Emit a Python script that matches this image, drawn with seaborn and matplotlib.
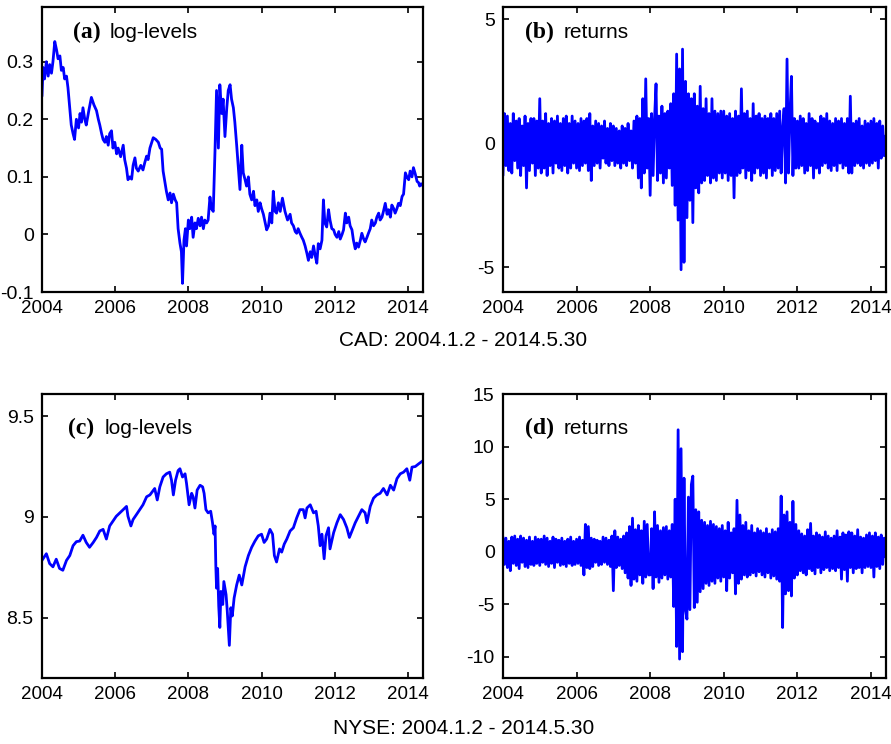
import numpy as np
import pandas as pd
import matplotlib
matplotlib.use("Agg")
import matplotlib.pyplot as plt
import seaborn as sns

# ---------------- data ----------------
# CAD log-levels (decimal year, value)
cad_level_years = [
    2004.00, 2004.03, 2004.07, 2004.12, 2004.17, 2004.21, 2004.26, 2004.30, 2004.35,
    2004.40, 2004.44, 2004.49, 2004.53, 2004.58, 2004.62, 2004.67, 2004.71, 2004.76,
    2004.80, 2004.85, 2004.89, 2004.94, 2005.00, 2005.04, 2005.08, 2005.12, 2005.17,
    2005.21, 2005.28, 2005.35, 2005.42, 2005.49, 2005.54, 2005.58, 2005.63, 2005.67,
    2005.72, 2005.76, 2005.81, 2005.85, 2005.90, 2005.94, 2005.99, 2006.04, 2006.08,
    2006.15, 2006.22, 2006.26, 2006.31, 2006.35, 2006.40, 2006.45, 2006.49, 2006.54,
    2006.58, 2006.63, 2006.70, 2006.76, 2006.81, 2006.86, 2006.90, 2006.95, 2007.00,
    2007.04, 2007.11, 2007.18, 2007.23, 2007.27, 2007.31, 2007.36, 2007.40, 2007.45,
    2007.50, 2007.54, 2007.59, 2007.64, 2007.68, 2007.72, 2007.77, 2007.81, 2007.84,
    2007.88, 2007.92, 2007.95, 2008.00, 2008.04, 2008.09, 2008.13, 2008.18, 2008.22,
    2008.27, 2008.32, 2008.36, 2008.41, 2008.45, 2008.50, 2008.54, 2008.59, 2008.63,
    2008.68, 2008.73, 2008.77, 2008.82, 2008.86, 2008.91, 2008.95, 2009.00, 2009.05,
    2009.09, 2009.14, 2009.18, 2009.23, 2009.27, 2009.32, 2009.36, 2009.41, 2009.46,
    2009.50, 2009.55, 2009.59, 2009.64, 2009.68, 2009.73, 2009.78, 2009.82, 2009.87,
    2009.91, 2009.96, 2010.00, 2010.05, 2010.10, 2010.14, 2010.19, 2010.23, 2010.28,
    2010.32, 2010.37, 2010.41, 2010.46, 2010.51, 2010.57, 2010.64, 2010.71, 2010.78,
    2010.82, 2010.87, 2010.92, 2010.96, 2011.00, 2011.05, 2011.10, 2011.14, 2011.19,
    2011.24, 2011.28, 2011.33, 2011.37, 2011.42, 2011.46, 2011.51, 2011.55, 2011.60,
    2011.65, 2011.69, 2011.73, 2011.78, 2011.83, 2011.87, 2011.92, 2011.97, 2012.01,
    2012.06, 2012.11, 2012.15, 2012.20, 2012.24, 2012.29, 2012.33, 2012.38, 2012.42,
    2012.47, 2012.51, 2012.56, 2012.60, 2012.65, 2012.70, 2012.74, 2012.79, 2012.83,
    2012.88, 2012.92, 2012.97, 2013.01, 2013.06, 2013.11, 2013.15, 2013.20, 2013.24,
    2013.29, 2013.33, 2013.38, 2013.43, 2013.47, 2013.52, 2013.56, 2013.61, 2013.65,
    2013.70, 2013.74, 2013.79, 2013.84, 2013.88, 2013.93, 2013.97, 2014.02, 2014.06,
    2014.11, 2014.15, 2014.20, 2014.25, 2014.29, 2014.32, 2014.36, 2014.41,
]
cad_level_values = [
    0.240, 0.290, 0.270, 0.300, 0.275, 0.295, 0.280, 0.300, 0.335,
    0.320, 0.305, 0.310, 0.285, 0.290, 0.270, 0.275, 0.255, 0.220,
    0.190, 0.175, 0.165, 0.200, 0.185, 0.210, 0.195, 0.220, 0.200,
    0.190, 0.215, 0.238, 0.225, 0.215, 0.200, 0.190, 0.175, 0.165,
    0.160, 0.170, 0.155, 0.175, 0.180, 0.150, 0.160, 0.140, 0.150,
    0.135, 0.155, 0.130, 0.115, 0.095, 0.100, 0.096, 0.120, 0.133,
    0.115, 0.110, 0.120, 0.112, 0.125, 0.136, 0.130, 0.150, 0.160,
    0.168, 0.165, 0.160, 0.150, 0.148, 0.110, 0.090, 0.075, 0.060,
    0.072, 0.055, 0.070, 0.060, 0.055, 0.010, -0.015, -0.030, -0.085,
    -0.010, 0.010, -0.020, 0.025, 0.010, 0.030, -0.005, 0.020, 0.010,
    0.028, 0.015, 0.030, 0.010, 0.025, 0.020, 0.025, 0.065, 0.045,
    0.040, 0.150, 0.250, 0.150, 0.260, 0.210, 0.235, 0.170, 0.220,
    0.250, 0.260, 0.235, 0.220, 0.195, 0.155, 0.120, 0.078, 0.155,
    0.107, 0.095, 0.084, 0.100, 0.070, 0.060, 0.075, 0.050, 0.060,
    0.040, 0.055, 0.045, 0.035, 0.020, 0.008, 0.015, 0.037, 0.020,
    0.075, 0.040, 0.037, 0.055, 0.040, 0.063, 0.040, 0.025, 0.035,
    0.020, 0.015, 0.005, 0.002, 0.010, 0.002, -0.005, -0.010, -0.020,
    -0.033, -0.045, -0.030, -0.040, -0.020, -0.035, -0.050, -0.016, -0.025,
    -0.010, 0.060, 0.020, 0.013, 0.043, 0.025, 0.010, 0.008, 0.000,
    -0.005, 0.005, -0.008, 0.000, 0.008, 0.037, 0.020, 0.030, 0.015,
    0.008, -0.010, -0.025, -0.015, -0.022, -0.010, 0.002, -0.008, -0.013,
    -0.005, 0.002, 0.010, 0.025, 0.015, 0.020, 0.030, 0.037, 0.025,
    0.030, 0.040, 0.054, 0.035, 0.043, 0.030, 0.051, 0.045, 0.037,
    0.045, 0.054, 0.050, 0.066, 0.070, 0.107, 0.100, 0.095, 0.110,
    0.100, 0.116, 0.105, 0.092, 0.090, 0.084, 0.088, 0.084,
]

# NYSE log-levels (decimal year, value)
nyse_level_years = [
    2004.00, 2004.12, 2004.21, 2004.30, 2004.39, 2004.48, 2004.57, 2004.67, 2004.76,
    2004.85, 2004.94, 2005.03, 2005.12, 2005.21, 2005.30, 2005.40, 2005.49, 2005.58,
    2005.67, 2005.76, 2005.85, 2005.94, 2006.03, 2006.13, 2006.22, 2006.31, 2006.35,
    2006.43, 2006.49, 2006.58, 2006.67, 2006.76, 2006.86, 2006.95, 2007.08, 2007.15,
    2007.22, 2007.31, 2007.40, 2007.49, 2007.54, 2007.59, 2007.65, 2007.72, 2007.77,
    2007.84, 2007.91, 2007.95, 2008.02, 2008.09, 2008.13, 2008.18, 2008.24, 2008.32,
    2008.39, 2008.43, 2008.48, 2008.54, 2008.61, 2008.66, 2008.70, 2008.73, 2008.75,
    2008.77, 2008.80, 2008.83, 2008.86, 2008.89, 2008.94, 2008.97, 2009.03, 2009.06,
    2009.12, 2009.16, 2009.20, 2009.25, 2009.32, 2009.39, 2009.46, 2009.55, 2009.64,
    2009.73, 2009.82, 2009.91, 2010.00, 2010.07, 2010.14, 2010.23, 2010.30, 2010.35,
    2010.41, 2010.49, 2010.55, 2010.62, 2010.69, 2010.78, 2010.87, 2010.96, 2011.05,
    2011.14, 2011.19, 2011.24, 2011.33, 2011.42, 2011.49, 2011.55, 2011.60, 2011.65,
    2011.71, 2011.76, 2011.83, 2011.87, 2011.97, 2012.06, 2012.15, 2012.24, 2012.33,
    2012.40, 2012.47, 2012.56, 2012.65, 2012.74, 2012.83, 2012.88, 2012.97, 2013.06,
    2013.15, 2013.24, 2013.33, 2013.43, 2013.52, 2013.61, 2013.70, 2013.79, 2013.88,
    2013.97, 2014.05, 2014.11, 2014.20, 2014.29, 2014.41,
]
nyse_level_values = [
    8.784, 8.817, 8.768, 8.752, 8.790, 8.744, 8.735, 8.784, 8.808,
    8.857, 8.877, 8.880, 8.909, 8.873, 8.849, 8.873, 8.898, 8.930,
    8.938, 8.890, 8.955, 8.979, 9.003, 9.020, 9.036, 9.052, 9.003,
    8.955, 8.987, 9.011, 9.036, 9.060, 9.100, 9.109, 9.141, 9.084,
    9.149, 9.198, 9.214, 9.222, 9.182, 9.109, 9.182, 9.230, 9.239,
    9.198, 9.214, 9.166, 9.060, 9.117, 9.100, 9.044, 9.133, 9.157,
    9.149, 9.117, 9.036, 9.020, 9.028, 8.971, 8.914, 8.955, 8.760,
    8.646, 8.744, 8.557, 8.451, 8.630, 8.565, 8.679, 8.614, 8.541,
    8.362, 8.549, 8.508, 8.597, 8.662, 8.711, 8.662, 8.752, 8.808,
    8.849, 8.880, 8.906, 8.914, 8.873, 8.890, 8.938, 8.914, 8.808,
    8.776, 8.841, 8.825, 8.865, 8.890, 8.930, 8.946, 8.995, 9.036,
    9.036, 8.995, 9.044, 9.060, 9.020, 9.028, 8.955, 8.857, 8.914,
    8.792, 8.906, 8.946, 8.841, 8.922, 8.971, 9.011, 8.987, 8.946,
    8.898, 8.930, 8.971, 9.003, 9.036, 9.020, 8.971, 9.052, 9.093,
    9.109, 9.117, 9.141, 9.109, 9.157, 9.133, 9.190, 9.214, 9.222,
    9.239, 9.182, 9.247, 9.250, 9.263, 9.279,
]

# Returns sampled every 0.04 years from 2004.00 to 2014.40 (one row per year)
returns_start, returns_step = 2004.0, 0.04

cad_returns = (
    [-1.3, 1.2, -0.9, 1.1, -1.1, 0.8, -1.2, 1.2, -0.7, 0.9, -1.0, 1.0, -1.3, 0.7, -0.9, 1.1, -1.8, 0.8, -1.1, 1.0, -0.8, 1.0, -1.3, 0.9, -1.0]
    + [1.8, -1.2, 0.9, -1.0, 1.2, -1.3, 0.8, -0.9, 1.0, -1.2, 0.9, -0.8, 1.1, -1.0, 0.8, -1.1, 1.0, -0.9, 1.1, -1.2, 0.8, -1.0, 1.1, -0.8, 0.9]
    + [-1.0, 0.8, -1.1, 1.0, -0.9, 0.9, -0.8, 1.0, -1.1, 1.2, -1.5, 0.7, -0.9, 0.9, -0.8, 0.8, -1.0, 0.7, -0.6, 0.9, -0.8, 0.6, -0.9, 0.8, -0.7]
    + [0.7, -0.9, 0.6, -0.8, 0.5, -1.0, 0.7, -0.8, 0.6, -0.9, 0.8, -0.7, 0.5, -1.0, 0.9, -0.8, 1.1, -1.4, 1.0, -1.8, 1.8, -1.2, 2.6, -1.0, 1.0]
    + [-2.1, 1.2, -1.3, 1.0, 2.4, -1.5, 1.1, -1.2, 1.5, -1.6, 1.2, -1.4, 1.3, -1.0, 1.6, -1.7, 2.0, -2.5, 3.6, -3.1, 3.0, -5.1, 3.8, -4.8, 2.5]
    + [-3.0, 2.0, -2.3, 1.8, -3.2, 2.0, -1.8, 1.5, -2.0, 2.3, -1.6, 1.4, -1.5, 1.8, -1.3, 1.2, -1.6, 1.8, -1.4, 1.3, -1.5, 1.2, -1.2, 1.3, -1.4]
    + [1.3, -1.2, 1.1, -1.5, 1.2, -1.3, 1.0, -2.2, 1.3, -1.3, 1.1, -1.2, 2.2, -1.0, 1.2, -1.4, 1.3, -1.1, 1.0, -1.5, 1.6, -1.2, 1.1, -1.0, 1.2]
    + [-1.3, 1.0, -1.2, 1.1, -1.4, 1.0, -1.0, 1.2, -1.3, 1.0, -1.1, 1.2, -1.0, 1.3, -1.2, 0.6, 1.4, -1.6, 3.4, -1.2, 1.2, 2.7, -1.3, 1.0, -1.0]
    + [0.9, -1.0, 1.1, -0.9, 1.0, -1.2, 0.8, -1.1, 1.2, -0.9, 1.0, -1.4, 0.9, -1.0, 0.8, -1.2, 1.1, -0.9, 1.0, -0.8, 1.2, -1.0, 0.9, -1.1, 0.8]
    + [-0.9, 1.0, -1.1, 0.9, -0.8, 1.0, -1.0, 0.8, -0.9, 1.0, -1.2, 1.9, -1.2, 0.8, -0.9, 0.9, -0.8, 1.0, -0.9, 0.7, -1.0, 0.9, -0.8, 0.8, -0.9]
    + [0.9, -0.8, 1.0, -0.7, 0.8, -1.0, 0.9, -0.6, 0.7, -0.5, 0.3]
)

nyse_returns = (
    [1.4, -1.2, 1.3, -1.5, 1.0, -1.8, 1.4, -1.1, 1.5, -1.3, 1.2, -1.6, 1.5, -1.0, 1.3, -1.4, 1.1, -1.5, 1.4, -1.2, 1.0, -1.3, 1.4, -1.1, 1.2]
    + [-1.3, 1.2, -1.0, 1.5, -1.2, 1.3, -1.4, 1.0, -1.1, 1.4, -1.5, 1.2, -1.0, 1.1, -1.3, 1.3, -1.2, 1.0, -1.4, 1.2, -1.1, 1.4, -1.3, 1.0, -1.2]
    + [1.2, -1.1, 1.4, -1.3, 1.1, -2.2, 2.6, -1.5, 2.4, -1.6, 1.3, -1.4, 1.2, -1.0, 1.1, -1.3, 1.0, -1.2, 1.4, -1.0, 1.3, -1.2, 1.1, -1.4, 1.5]
    + [-3.7, 2.0, -1.5, 1.4, -1.3, 1.2, -1.6, 1.5, -2.0, 1.8, -2.5, 2.4, -3.2, 3.2, -2.6, 2.1, -2.8, 2.5, -2.2, 2.0, -3.0, 2.9, -2.4, 2.6, -2.2]
    + [-2.2, 2.2, -3.5, 3.8, -2.4, 2.5, -2.9, 2.0, -2.5, 2.3, -2.2, 2.4, -2.6, 2.0, -2.4, 2.6, -5.2, 5.0, -9.0, 11.6, -10.2, 9.8, -9.5, 7.0, -5.5]
    + [-6.4, 5.2, -5.5, 6.4, 7.2, -5.3, 4.0, -4.8, 3.8, -3.8, 3.0, -3.5, 2.8, -3.0, 2.5, -3.2, 2.9, -2.8, 2.6, -3.0, 2.4, -2.5, 2.2, -2.8, 2.5]
    + [-2.4, 2.0, -3.7, 2.8, -2.5, 1.8, -2.0, 2.2, -4.0, 4.9, -3.0, 3.5, -2.6, 2.5, -2.2, 2.8, -2.4, 2.0, -2.2, 2.5, -2.0, 1.8, -2.3, 2.2, -1.9]
    + [2.0, -2.2, 1.8, -2.4, 2.2, -2.0, 1.7, -2.5, 2.1, -2.3, 1.9, -2.6, 2.2, -2.8, 5.3, -7.2, 3.5, -4.0, 3.8, -3.7, 2.8, -4.2, 4.8, -2.5, 2.6]
    + [-2.2, 2.0, -1.8, 1.7, -2.0, 1.5, -2.2, 2.1, -1.6, 2.7, -1.8, 1.5, -2.1, 1.8, -1.5, 1.6, -2.0, 1.4, -1.7, 1.9, -1.5, 1.5, -1.8, 1.3, -1.6]
    + [1.5, -1.8, 2.0, -1.5, 1.4, -2.6, 1.8, -1.7, 1.6, -2.8, 1.9, -1.5, 1.8, -2.0, 1.5, -1.6, 2.1, -1.5, 1.4, -2.0, 1.3, -1.5, 1.6, -1.4, 1.8]
    + [-1.5, 1.5, -2.4, 1.8, -1.4, 1.4, -1.6, 1.6, -1.2, 1.3, -0.5]
)

x_ticks = [2004, 2006, 2008, 2010, 2012, 2014]
x_tick_labels = ["2004", "2006", "2008", "2010", "2012", "2014"]
x_range = (2004.0, 2014.41)

panels = {
    "a": dict(letter="(a)", name="log-levels", ylim=(-0.1, 0.395),
              yticks=[-0.1, 0, 0.1, 0.2, 0.3], ylabels=["-0.1", "0", "0.1", "0.2", "0.3"]),
    "b": dict(letter="(b)", name="returns", ylim=(-6.0, 5.5),
              yticks=[-5, 0, 5], ylabels=["-5", "0", "5"]),
    "c": dict(letter="(c)", name="log-levels", ylim=(8.2, 9.61),
              yticks=[8.5, 9, 9.5], ylabels=["8.5", "9", "9.5"]),
    "d": dict(letter="(d)", name="returns", ylim=(-12.0, 15.0),
              yticks=[-10, -5, 0, 5, 10, 15], ylabels=["-10", "-5", "0", "5", "10", "15"]),
}
group_titles = ["CAD: 2004.1.2 - 2014.5.30", "NYSE: 2004.1.2 - 2014.5.30"]

# ---------------- frames ----------------
frames = {
    "a": pd.DataFrame({"year": cad_level_years, "value": cad_level_values}),
    "b": pd.DataFrame({"year": returns_start + returns_step * np.arange(len(cad_returns)),
                       "value": cad_returns}),
    "c": pd.DataFrame({"year": nyse_level_years, "value": nyse_level_values}),
    "d": pd.DataFrame({"year": returns_start + returns_step * np.arange(len(nyse_returns)),
                       "value": nyse_returns}),
}

# ---------------- style ----------------
sns.set_theme(style="ticks")
plt.rcParams["font.family"] = ["Liberation Sans", "DejaVu Sans"]
plt.rcParams["axes.unicode_minus"] = False
for k in ("text.color", "axes.labelcolor", "xtick.color", "ytick.color", "axes.edgecolor"):
    plt.rcParams[k] = "black"

fig = plt.figure(figsize=(8.91, 7.44), dpi=100)
rects = {
    "a": [0.0471, 0.6075, 0.4276, 0.3831],
    "b": [0.5645, 0.6075, 0.4299, 0.3831],
    "c": [0.0471, 0.0887, 0.4276, 0.3817],
    "d": [0.5645, 0.0887, 0.4299, 0.3817],
}
label_pos = {
    "a": (0.081, 0.178, 0.909),
    "b": (0.057, 0.159, 0.909),
    "c": (0.068, 0.165, 0.880),
    "d": (0.057, 0.159, 0.880),
}

for key, spec in panels.items():
    ax = fig.add_axes(rects[key])
    sns.lineplot(data=frames[key], x="year", y="value", ax=ax, color="#0000ff",
                 linewidth=2.0, estimator=None, sort=False)
    ax.set_xlim(*x_range)
    ax.set_ylim(*spec["ylim"])
    ax.set_xticks(x_ticks)
    ax.set_xticklabels(x_tick_labels, fontsize=13.5)
    ax.set_yticks(spec["yticks"])
    ax.set_yticklabels(spec["ylabels"], fontsize=14)
    ax.set_xlabel("")
    ax.set_ylabel("")
    ax.tick_params(direction="in", length=4.5, width=1.2, top=True, right=True,
                   colors="black", pad=6)
    for s in ax.spines.values():
        s.set_visible(True)
        s.set_linewidth(1.6)
        s.set_color("black")
    ax.grid(False)
    lx, nx, ly = label_pos[key]
    ax.text(lx, ly, spec["letter"], transform=ax.transAxes, fontsize=17,
            fontweight="bold", family=["Liberation Serif", "DejaVu Serif"], va="center")
    ax.text(nx, ly, spec["name"], transform=ax.transAxes, fontsize=15, va="center")

fig.text(0.52, 0.5417, group_titles[0], ha="center", va="center", fontsize=15)
fig.text(0.52, 0.0215, group_titles[1], ha="center", va="center", fontsize=15)

fig.savefig("out.png", dpi=100)
